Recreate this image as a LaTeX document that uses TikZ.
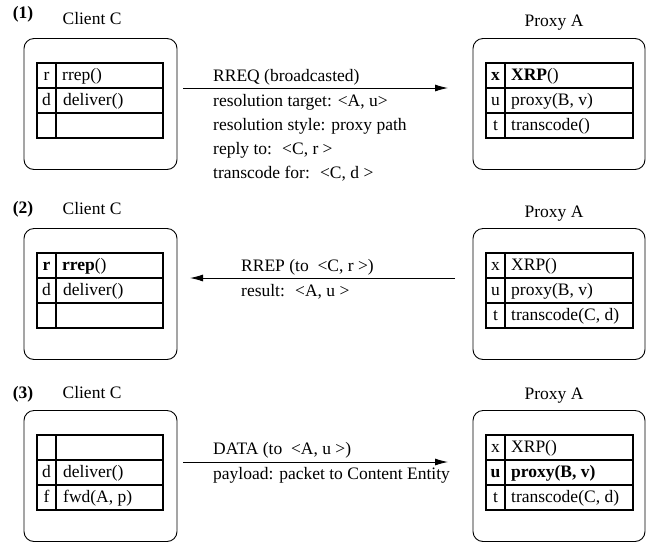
\documentclass[tikz,border=0pt]{standalone}
\usepackage{fontspec}
\setmainfont{Liberation Serif}
\usetikzlibrary{arrows.meta, positioning}

\begin{document}
\begin{tikzpicture}[x=1pt, y=1pt, >={Latex[length=13pt,width=7pt]},
    font=\fontsize{17.5}{21}\selectfont,
    unit/.style={draw, rounded corners=10pt, line width=0.9pt, minimum width=153pt, minimum height=131pt, inner sep=0pt},
    slot/.style={line width=1.3pt},
    txt/.style={inner sep=0pt, anchor=base},
    fn/.style={inner sep=0pt, anchor=base west},
    msg/.style={->, line width=0.9pt}]

    \useasboundingbox (0,0) rectangle (651,-542);

    % 1. Khung cua Client C va Proxy A, bang 3 dong
    \foreach \p/\oy in {1/0, 2/190, 3/372} {
        \node[unit] (cb\p) at (100.5,-104-\oy) {};
        \node[unit, minimum width=172pt] (pb\p) at (559,-104-\oy) {};
        \draw[slot] (37,-63-\oy) rectangle (163,-138-\oy);
        \draw[slot] (486,-63-\oy) rectangle (633,-138-\oy);
        \draw[slot] (56,-63-\oy) -- (56,-138-\oy);
        \draw[slot] (505,-63-\oy) -- (505,-138-\oy);
        \foreach \y in {88,113} {
            \draw[slot] (37,-\y-\oy) -- (163,-\y-\oy);
            \draw[slot] (486,-\y-\oy) -- (633,-\y-\oy);
        }
    }

    % 2. Buoc (1): RREQ
    \node[txt] (s1) at (23,-18) {\textbf{(1)}};
    \node[txt] (cc1) at (92,-24) {Client C};
    \node[txt] (pa1) at (554,-26) {Proxy A};
    \node[txt] (c1r) at (46.5,-80) {r};
    \node[fn] (c1rf) at (62,-80) {rrep()};
    \node[txt] (c1d) at (46.5,-105) {d};
    \node[fn] (c1df) at (63,-105) {deliver()};
    \node[txt] (p1x) at (495.5,-80) {\textbf{x}};
    \node[fn] (p1xf) at (511,-80) {\textbf{XRP}()};
    \node[txt] (p1u) at (495.5,-105) {u};
    \node[fn] (p1uf) at (511,-105) {proxy(B, v)};
    \node[txt] (p1t) at (495.5,-130) {t};
    \node[fn] (p1tf) at (511,-130) {transcode()};
    \coordinate (m1a) at (183,-88);
    \coordinate (m1b) at (448,-88);
    \draw[msg] (m1a) -- (m1b);
    \node[fn] (q1) at (213,-81) {RREQ (broadcasted)};
    \node[fn] (q1a) at (213,-106) {resolution target: <A, u>};
    \node[fn] (q1b) at (213,-130) {resolution style: proxy path};
    \node[fn] (q1c) at (213,-154) {reply to:~ <C, r >};
    \node[fn] (q1d) at (213,-178) {transcode for:~ <C, d >};

    % 3. Buoc (2): RREP
    \node[txt] (s2) at (23,-213) {\textbf{(2)}};
    \node[txt] (cc2) at (92,-214) {Client C};
    \node[txt] (pa2) at (554,-217) {Proxy A};
    \node[txt] (c2r) at (46.5,-270) {\textbf{r}};
    \node[fn] (c2rf) at (62,-270) {\textbf{rrep}()};
    \node[txt] (c2d) at (46.5,-295) {d};
    \node[fn] (c2df) at (63,-295) {deliver()};
    \node[txt] (p2x) at (495.5,-270) {x};
    \node[fn] (p2xf) at (511,-270) {XRP()};
    \node[txt] (p2u) at (495.5,-295) {u};
    \node[fn] (p2uf) at (511,-295) {proxy(B, v)};
    \node[txt] (p2t) at (495.5,-320) {t};
    \node[fn] (p2tf) at (511,-320) {transcode(C, d)};
    \coordinate (m2a) at (455,-278);
    \coordinate (m2b) at (190,-278);
    \draw[msg] (m2a) -- (m2b);
    \node[fn] (q2) at (241,-271) {RREP (to~ <C, r >)};
    \node[fn] (q2a) at (241,-296) {result:~ <A, u >};

    % 4. Buoc (3): DATA
    \node[txt] (s3) at (23,-398) {\textbf{(3)}};
    \node[txt] (cc3) at (92,-398) {Client C};
    \node[txt] (pa3) at (554,-399) {Proxy A};
    \node[txt] (c3d) at (46.5,-477) {d};
    \node[fn] (c3df) at (63,-477) {deliver()};
    \node[txt] (c3f) at (46.5,-502) {f};
    \node[fn] (c3ff) at (63,-502) {fwd(A, p)};
    \node[txt] (p3x) at (495.5,-452) {x};
    \node[fn] (p3xf) at (511,-452) {XRP()};
    \node[txt] (p3u) at (495.5,-477) {\textbf{u}};
    \node[fn] (p3uf) at (511,-477) {\textbf{proxy(B, v)}};
    \node[txt] (p3t) at (495.5,-502) {t};
    \node[fn] (p3tf) at (511,-502) {transcode(C, d)};
    \coordinate (m3a) at (183,-462);
    \coordinate (m3b) at (448,-462);
    \draw[msg] (m3a) -- (m3b);
    \node[fn] (q3) at (213,-454) {DATA (to~ <A, u >)};
    \node[fn] (q3a) at (213,-479) {payload: packet to Content Entity};
\end{tikzpicture}
\end{document}
